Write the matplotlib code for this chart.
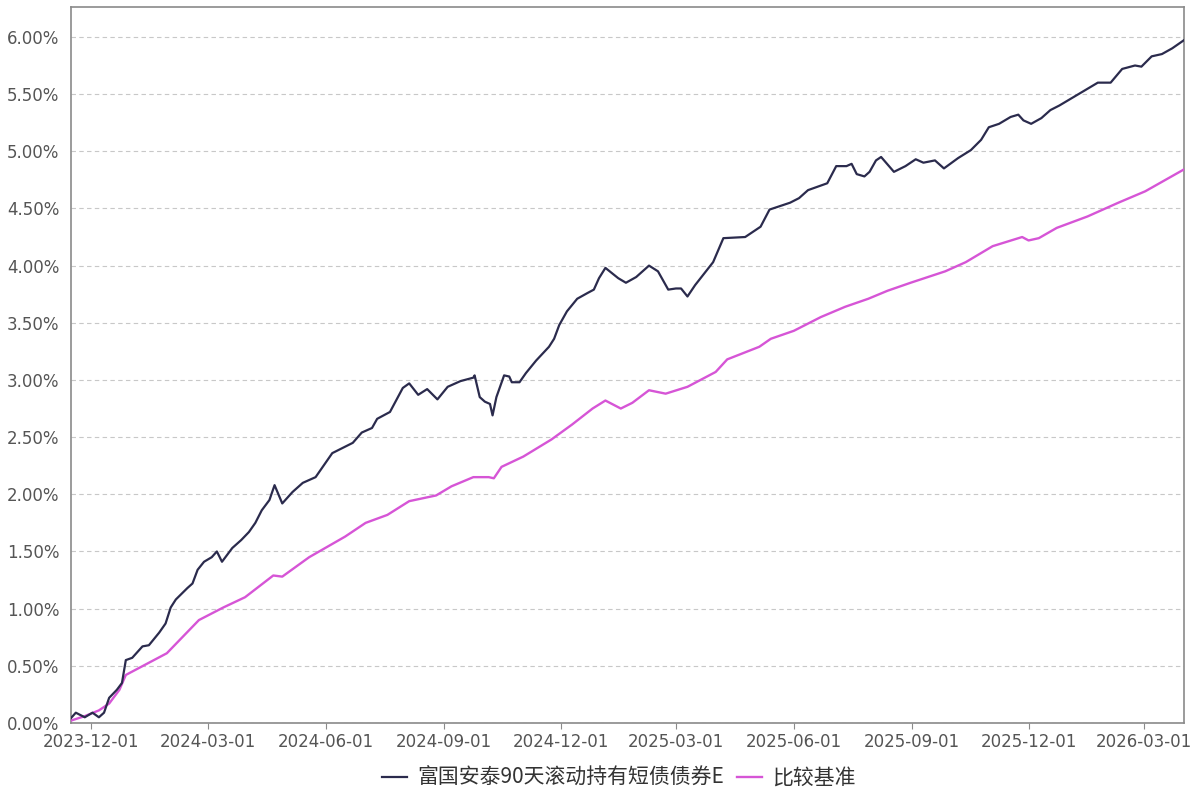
import matplotlib
matplotlib.use('Agg')
import matplotlib.pyplot as plt
import matplotlib.dates as mdates
from matplotlib.ticker import FuncFormatter
import pandas as pd

plt.rcParams['font.family'] = ['Noto Sans CJK SC', 'DejaVu Sans']

fund_name = '富国安泰90天滚动持有短债债券E'
bench_name = '比较基准'

fund_dates = [
    '2023-11-15', '2023-11-19', '2023-11-26', '2023-12-02', '2023-12-07', '2023-12-11',
    '2023-12-15', '2023-12-21', '2023-12-25', '2023-12-28', '2024-01-02', '2024-01-10',
    '2024-01-15', '2024-01-23', '2024-01-28', '2024-02-01', '2024-02-05', '2024-02-14',
    '2024-02-18', '2024-02-22', '2024-02-27', '2024-03-04', '2024-03-08', '2024-03-12',
    '2024-03-20', '2024-03-27', '2024-04-02', '2024-04-07', '2024-04-12', '2024-04-18',
    '2024-04-22', '2024-04-28', '2024-05-06', '2024-05-14', '2024-05-24', '2024-06-06',
    '2024-06-22', '2024-06-29', '2024-07-07', '2024-07-11', '2024-07-21', '2024-07-31',
    '2024-08-05', '2024-08-12', '2024-08-19', '2024-08-27', '2024-09-04', '2024-09-14',
    '2024-09-24', '2024-09-25', '2024-09-29', '2024-10-03', '2024-10-07', '2024-10-09',
    '2024-10-12', '2024-10-18', '2024-10-22', '2024-10-24', '2024-10-30', '2024-11-04',
    '2024-11-12', '2024-11-22', '2024-11-26', '2024-11-30', '2024-12-06', '2024-12-14',
    '2024-12-22', '2024-12-27', '2024-12-31', '2025-01-05', '2025-01-15', '2025-01-21',
    '2025-01-29', '2025-02-08', '2025-02-15', '2025-02-23', '2025-03-01', '2025-03-05',
    '2025-03-10', '2025-03-16', '2025-03-30', '2025-04-07', '2025-04-24', '2025-05-06',
    '2025-05-13', '2025-05-29', '2025-06-05', '2025-06-12', '2025-06-27', '2025-07-04',
    '2025-07-12', '2025-07-16', '2025-07-20', '2025-07-26', '2025-07-30', '2025-08-04',
    '2025-08-08', '2025-08-18', '2025-08-27', '2025-09-04', '2025-09-10', '2025-09-19',
    '2025-09-26', '2025-10-07', '2025-10-17', '2025-10-25', '2025-10-31', '2025-11-08',
    '2025-11-17', '2025-11-23', '2025-11-27', '2025-12-03', '2025-12-11', '2025-12-18',
    '2025-12-25', '2026-01-06', '2026-01-15', '2026-01-24', '2026-02-03', '2026-02-12',
    '2026-02-22', '2026-02-27', '2026-03-07', '2026-03-15', '2026-03-23', '2026-04-01',
]
fund_values = [
    0.04, 0.09, 0.05, 0.09, 0.05, 0.09,
    0.22, 0.29, 0.35, 0.55, 0.57, 0.67,
    0.68, 0.79, 0.87, 1.01, 1.08, 1.18,
    1.22, 1.34, 1.41, 1.45, 1.50, 1.41,
    1.53, 1.60, 1.67, 1.75, 1.86, 1.95,
    2.08, 1.92, 2.02, 2.10, 2.15, 2.36,
    2.45, 2.54, 2.58, 2.66, 2.72, 2.93,
    2.97, 2.87, 2.92, 2.83, 2.94, 2.99,
    3.02, 3.04, 2.85, 2.81, 2.79, 2.69,
    2.85, 3.04, 3.03, 2.98, 2.98, 3.06,
    3.17, 3.29, 3.36, 3.48, 3.60, 3.71,
    3.76, 3.79, 3.89, 3.98, 3.89, 3.85,
    3.90, 4.00, 3.95, 3.79, 3.80, 3.80,
    3.73, 3.83, 4.03, 4.24, 4.25, 4.34,
    4.49, 4.55, 4.59, 4.66, 4.72, 4.87,
    4.87, 4.89, 4.80, 4.78, 4.82, 4.92,
    4.95, 4.82, 4.87, 4.93, 4.90, 4.92,
    4.85, 4.94, 5.01, 5.10, 5.21, 5.24,
    5.30, 5.32, 5.27, 5.24, 5.29, 5.36,
    5.40, 5.48, 5.54, 5.60, 5.60, 5.72,
    5.75, 5.74, 5.83, 5.85, 5.90, 5.97,
]

bench_dates = [
    '2023-11-15', '2023-11-26', '2023-12-07', '2023-12-15', '2023-12-23', '2023-12-28',
    '2024-01-29', '2024-02-23', '2024-03-13', '2024-03-30', '2024-04-21', '2024-04-28',
    '2024-05-19', '2024-06-16', '2024-07-02', '2024-07-19', '2024-08-05', '2024-08-26',
    '2024-09-07', '2024-09-24', '2024-10-06', '2024-10-10', '2024-10-16', '2024-11-02',
    '2024-11-24', '2024-12-10', '2024-12-26', '2025-01-05', '2025-01-17', '2025-01-26',
    '2025-02-08', '2025-02-21', '2025-03-10', '2025-04-01', '2025-04-10', '2025-05-05',
    '2025-05-14', '2025-06-01', '2025-06-22', '2025-07-11', '2025-07-29', '2025-08-13',
    '2025-08-31', '2025-09-27', '2025-10-13', '2025-11-03', '2025-11-26', '2025-12-01',
    '2025-12-09', '2025-12-23', '2026-01-16', '2026-02-09', '2026-03-02', '2026-04-01',
]
bench_values = [
    0.02, 0.06, 0.11, 0.17, 0.29, 0.42,
    0.61, 0.90, 1.01, 1.10, 1.29, 1.28,
    1.45, 1.63, 1.75, 1.82, 1.94, 1.99,
    2.07, 2.15, 2.15, 2.14, 2.24, 2.33,
    2.48, 2.61, 2.75, 2.82, 2.75, 2.80,
    2.91, 2.88, 2.94, 3.07, 3.18, 3.29,
    3.36, 3.43, 3.55, 3.64, 3.71, 3.78,
    3.85, 3.95, 4.03, 4.17, 4.25, 4.22,
    4.24, 4.33, 4.43, 4.55, 4.65, 4.84,
]

tick_labels = ['2023-12-01', '2024-03-01', '2024-06-01', '2024-09-01', '2024-12-01',
               '2025-03-01', '2025-06-01', '2025-09-01', '2025-12-01', '2026-03-01']

fig = plt.figure(figsize=(12.02, 7.98), dpi=100)
ax = fig.add_axes([0.0588, 0.094, 0.926, 0.897])

ax.plot(pd.to_datetime(bench_dates), bench_values, color='#d655d6', lw=1.7, label=bench_name, zorder=3)
ax.plot(pd.to_datetime(fund_dates), fund_values, color='#2b2b4d', lw=1.6, label=fund_name, zorder=4)

ax.set_xlim(pd.Timestamp('2023-11-15'), pd.Timestamp('2026-04-01'))
ax.set_ylim(0, 6.26)
ax.set_yticks([i * 0.5 for i in range(13)])
ax.yaxis.set_major_formatter(FuncFormatter(lambda v, p: '%.2f%%' % v))
ax.set_xticks(pd.to_datetime(tick_labels))
ax.xaxis.set_major_formatter(mdates.DateFormatter('%Y-%m-%d'))

ax.grid(axis='y', color='#c8c8c8', linestyle=(0, (4, 3)), linewidth=0.8)
for s in ax.spines.values():
    s.set_color('#8a8a8a')
    s.set_linewidth(1.2)
ax.tick_params(axis='x', colors='#8a8a8a', length=4, labelsize=12, labelcolor='#555555', pad=3)
ax.tick_params(axis='y', length=0, labelsize=12, labelcolor='#555555', pad=8)
for lab in ax.get_xticklabels() + ax.get_yticklabels():
    lab.set_family('DejaVu Sans')

h, l = ax.get_legend_handles_labels()
fig.legend(h[::-1], l[::-1], loc='center', bbox_to_anchor=(0.515, 0.025), ncol=2, frameon=False,
           fontsize=15, handlelength=1.2, handletextpad=0.5, columnspacing=0.6, labelcolor='#333333')

fig.savefig('out.png', dpi=100)
